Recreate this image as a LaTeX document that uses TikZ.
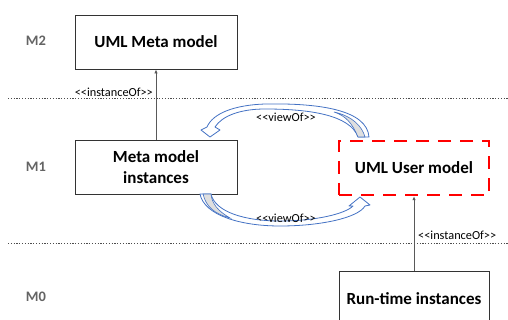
\documentclass[tikz,border=0pt]{standalone}
\usepackage{fontspec}
\setmainfont{Carlito}
\usetikzlibrary{arrows.meta}
\definecolor{viewblue}{RGB}{68,114,196}
\definecolor{lvlgray}{RGB}{100,100,100}
\newcommand\stlab[1]{<\kern0pt<#1>\kern0pt>}
\begin{document}
\begin{tikzpicture}[x=1pt,y=-1pt,
  box/.style={draw=black!80, line width=0.9pt, fill=white, minimum width=162pt, minimum height=54pt, inner sep=0pt, font=\fontsize{17}{21}\selectfont\bfseries, align=center},
  lvl/.style={font=\fontsize{14.5}{16}\selectfont\bfseries, text=lvlgray},
  stereo/.style={font=\fontsize{12.3}{14}\selectfont, inner sep=1pt},
  sep/.style={black!70, line width=1pt, dash pattern=on 1.2pt off 1.6pt},
  instarrow/.style={draw=black!65, line width=0.8pt, -{Latex[length=4pt,width=3.5pt]}},
  viewarrow/.style={draw=viewblue, line width=0.8pt, line join=round, fill=white},
  crescent/.style={draw=viewblue, line width=0.6pt, fill=gray!25}
]
\useasboundingbox (0,0) rectangle (508,320);
\clip (0,0) rectangle (508,320);

% level separators
\coordinate (s1l) at (8,99);
\coordinate (s1r) at (508,99);
\coordinate (s2l) at (8,243);
\coordinate (s2r) at (508,243);
\draw[sep] (s1l) -- (s1r);
\draw[sep] (s2l) -- (s2r);

% level labels
\node[lvl] (m2) at (36,41) {M2};
\node[lvl] (m1) at (36,167) {M1};
\node[lvl] (m0) at (36,297) {M0};

% boxes
\node[box] (meta) at (156,42) {UML Meta model};
\node[box] (inst) at (156,167) {Meta model\\instances};
\node[box, draw=red, line width=2.5pt, dash pattern=on 13pt off 9pt, minimum width=150pt] (user) at (414,168) {UML User model};
\node[box, minimum width=150pt, minimum height=56pt] (rt) at (414,299) {Run-time instances};

% instanceOf connectors
\draw[instarrow] (inst.north) -- (meta.south);
\draw[instarrow] (rt.north) -- (user.south);
\node[stereo, anchor=east] (lab1) at (154,92) {\stlab{instanceOf}};
\node[stereo, anchor=west] (lab2) at (417,235) {\stlab{instanceOf}};

% viewOf curved arrows (top: user -> inst)
\path[viewarrow] (369,137) .. controls (367,110) and (320,103) .. (265,104)
  .. controls (235,105) and (213,113) .. (207,127) -- (201,130) -- (210,137) -- (220,130) -- (215,127)
  .. controls (222,116) and (240,109) .. (265,109)
  .. controls (310,109) and (350,115) .. (358,137) -- cycle;
\path[crescent] (358,137) .. controls (352,123) and (346,116) .. (334,112)
  .. controls (352,116) and (362,126) .. (365,137) -- cycle;
\node[stereo] (view1) at (286,117) {\stlab{viewOf}};

% bottom: inst -> user
\path[viewarrow] (200,194) .. controls (204,215) and (240,226) .. (280,226)
  .. controls (320,226) and (358,218) .. (365,206) -- (370,205) -- (360,197) -- (349,206) -- (353,206)
  .. controls (345,214) and (315,221) .. (280,221)
  .. controls (245,221) and (215,212) .. (211,194) -- cycle;
\path[crescent] (203,194) .. controls (206,207) and (215,214) .. (230,218)
  .. controls (218,211) and (212,204) .. (211,194) -- cycle;
\node[stereo] (view2) at (286,218) {\stlab{viewOf}};
\end{tikzpicture}
\end{document}
